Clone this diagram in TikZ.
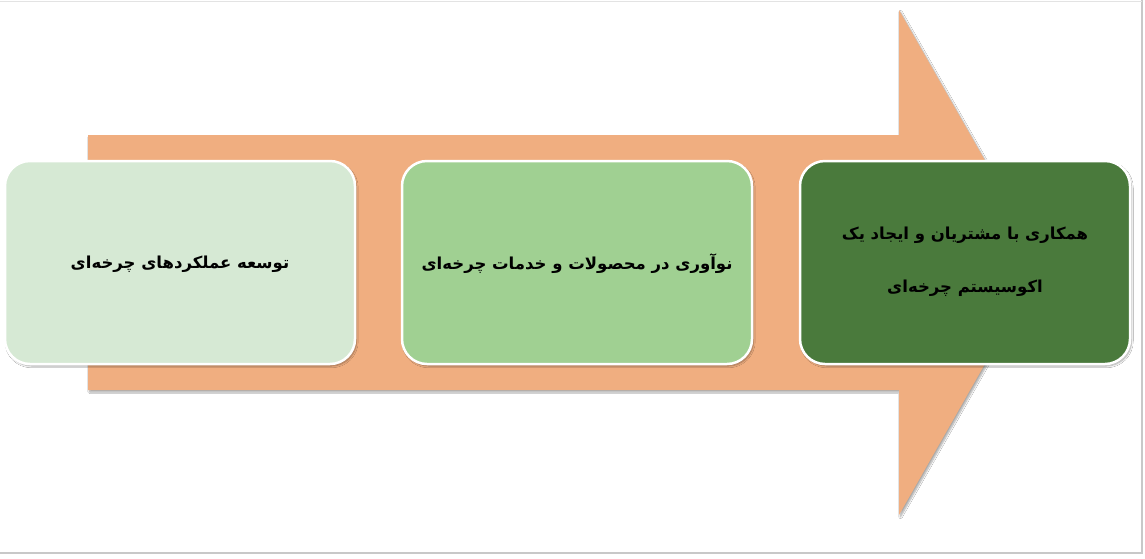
\documentclass[tikz,border=0pt]{standalone}
\usepackage{fontspec}
\usetikzlibrary{shadows,shadows.blur}
\TeXXeTstate=1
\newfontfamily\arabicfont[Script=Arabic]{DejaVu Sans}
\definecolor{arrowc}{RGB}{240,174,128}
\definecolor{boxa}{RGB}{214,233,212}
\definecolor{boxb}{RGB}{160,208,146}
\definecolor{boxc}{RGB}{74,122,60}
\definecolor{framec}{RGB}{200,200,200}
\tikzset{
  stepbox/.style={draw=white, line width=2.5pt, rounded corners=25pt,
    blur shadow={shadow xshift=1.5pt, shadow yshift=-2pt, shadow blur steps=6, shadow opacity=35}},
  bigarrow/.style={fill=arrowc,
    blur shadow={shadow xshift=1.5pt, shadow yshift=-2pt, shadow blur steps=6, shadow opacity=35}},
  steptext/.style={align=center, inner sep=0pt, font=\arabicfont\bfseries\fontsize{16.5}{53}\selectfont}
}
\begin{document}
\begin{tikzpicture}[x=1pt,y=-1pt]
\useasboundingbox (0,0) rectangle (1145,558);
\fill[white] (0,0) rectangle (1145,558);
\draw[framec, line width=1.5pt] (1142,0) -- (1142,553) -- (0,553);
\draw[framec!50, line width=0.8pt] (0,1) -- (1142,1);
\path[bigarrow] (88,135) -- (899,135) -- (899,10) -- (1043,262) -- (899,515) -- (899,390) -- (88,390) -- cycle;
\path[stepbox, fill=boxa] (5,161) rectangle (355,364);
\path[stepbox, fill=boxb] (402,161) rectangle (752,364);
\path[stepbox, fill=boxc] (800,161) rectangle (1130,364);
\node[steptext] (t1) at (180,264) {\beginR توسعه عملکردهای چرخه‌ای\endR};
\node[steptext] (t2) at (577,264) {\beginR نوآوری در محصولات و خدمات چرخه‌ای\endR};
\node[steptext] (t3) at (965,262) {\beginR همکاری با مشتریان و ایجاد یک\endR\\\beginR اکوسیستم چرخه‌ای\endR};
\end{tikzpicture}
\end{document}
